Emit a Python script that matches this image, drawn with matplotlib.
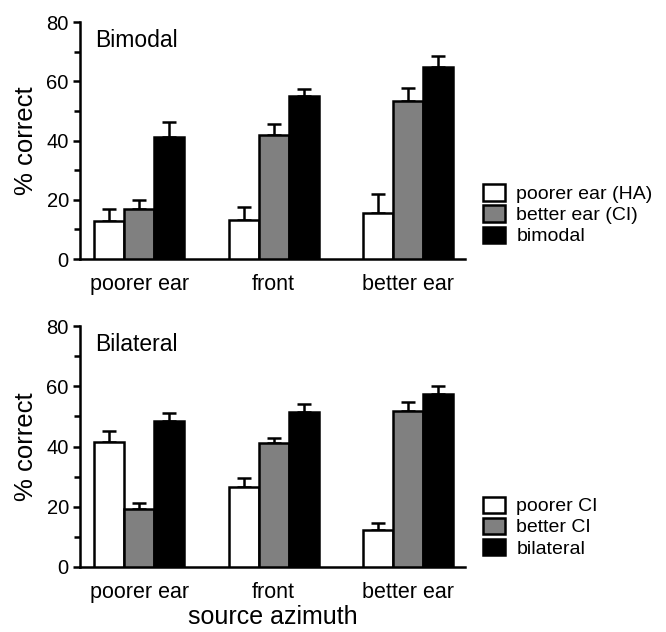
import numpy as np
import matplotlib
matplotlib.use("Agg")
import matplotlib.pyplot as plt
from matplotlib.patches import Patch
from matplotlib.ticker import MultipleLocator

plt.rcParams["font.family"] = ["Liberation Sans", "DejaVu Sans"]

# --- Data ---
categories = ["poorer ear", "front", "better ear"]

bimodal_labels = ["poorer ear (HA)", "better ear (CI)", "bimodal"]
bimodal_means = [
    [13.0, 13.2, 15.7],   # poorer ear (HA)
    [17.0, 42.0, 53.5],   # better ear (CI)
    [41.1, 55.0, 64.8],   # bimodal
]
bimodal_err = [
    [3.9, 4.3, 6.3],
    [3.1, 3.6, 4.3],
    [5.3, 2.5, 3.6],
]

bilateral_labels = ["poorer CI", "better CI", "bilateral"]
bilateral_means = [
    [41.6, 26.6, 12.4],   # poorer CI
    [19.1, 41.0, 51.9],   # better CI
    [48.5, 51.5, 57.5],   # bilateral
]
bilateral_err = [
    [3.6, 2.8, 2.2],
    [2.2, 1.9, 2.8],
    [2.6, 2.7, 2.6],
]

colors = ["white", "#808080", "black"]

# --- Plot ---
fig = plt.figure(figsize=(6.66, 6.32), dpi=100)
ax_top = fig.add_axes([0.12, 0.590, 0.578, 0.375])
ax_bot = fig.add_axes([0.12, 0.103, 0.578, 0.381])

x = np.arange(len(categories))
width = 0.223
LW = 1.8


def draw_panel(ax, means, errs, labels, title, legend_y):
    for i, (m, e) in enumerate(zip(means, errs)):
        pos = x + (i - 1) * width
        ax.bar(pos, m, width, color=colors[i], edgecolor="black",
               linewidth=LW, label=labels[i], zorder=3)
        ax.errorbar(pos, m, yerr=[np.zeros(len(e)), e], fmt="none",
                    ecolor="black", elinewidth=LW, capsize=4.8,
                    capthick=LW, zorder=2)
    ax.set_xlim(-0.44, 2.42)
    ax.set_ylim(0, 80)
    ax.yaxis.set_major_locator(MultipleLocator(20))
    ax.yaxis.set_minor_locator(MultipleLocator(10))
    ax.set_xticks(x)
    ax.set_xticklabels(categories, fontsize=15.5)
    ax.tick_params(axis="x", length=0, pad=11)
    ax.tick_params(axis="y", which="major", length=5, width=LW,
                   labelsize=14.5, pad=3)
    ax.tick_params(axis="y", which="minor", length=4, width=LW)
    for s in ["top", "right"]:
        ax.spines[s].set_visible(False)
    for s in ["left", "bottom"]:
        ax.spines[s].set_linewidth(LW)
    ax.set_ylabel("% correct", fontsize=18.5, labelpad=6)
    ax.text(0.04, 0.97, title, transform=ax.transAxes, fontsize=16.5,
            va="top", ha="left")
    handles = [Patch(facecolor=colors[i], edgecolor="black", linewidth=LW)
               for i in range(3)]
    fig.legend(handles, labels, loc="center left",
               bbox_to_anchor=(0.711, legend_y), frameon=False,
               fontsize=14, handlelength=1.1, handleheight=0.9,
               handletextpad=0.6, labelspacing=0.12, borderpad=0)


draw_panel(ax_top, bimodal_means, bimodal_err, bimodal_labels, "Bimodal", 0.66)
draw_panel(ax_bot, bilateral_means, bilateral_err, bilateral_labels, "Bilateral", 0.166)
ax_bot.set_xlabel("source azimuth", fontsize=18, labelpad=1)

fig.savefig("out.png", dpi=100)
